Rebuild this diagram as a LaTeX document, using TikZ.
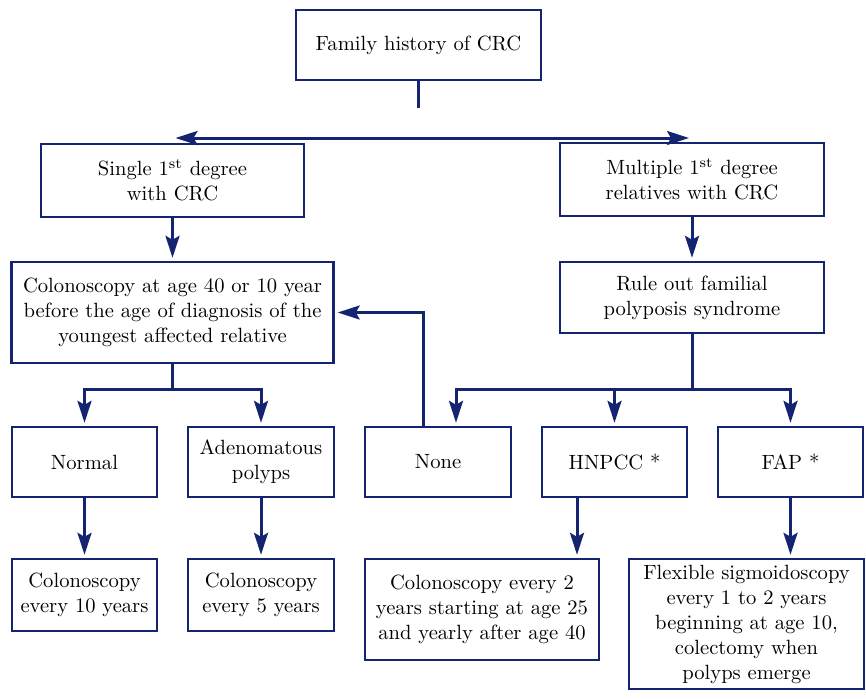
\documentclass[tikz,border=0pt]{standalone}
\usetikzlibrary{arrows.meta,calc}
\definecolor{navy}{RGB}{20,36,112}
\begin{document}
\begin{tikzpicture}[x=0.5pt,y=-0.5pt,
  box/.style={draw=navy,line width=1.2pt,rectangle,align=center,inner sep=0pt,
    font=\fontsize{10.3}{12.5}\selectfont},
  conn/.style={draw=navy,line width=1.5pt},
  arr/.style={conn,-{Stealth[length=11pt,width=7pt,inset=2pt]},shorten >=1.5pt}]
\useasboundingbox (0,0) rectangle (866,698);
% nodes
\node[box,minimum width=122.5pt,minimum height=35pt] (fam) at (418.5,45) {Family history of CRC};
\node[box,minimum width=131.5pt,minimum height=36.5pt] (single) at (172.5,180.5) {Single 1\textsuperscript{st} degree\\with CRC};
\node[box,minimum width=132pt,minimum height=36.5pt] (multiple) at (692,179.5) {Multiple 1\textsuperscript{st} degree\\relatives with CRC};
\node[box,minimum width=161pt,minimum height=50.5pt] (colo) at (172.5,312.5) {Colonoscopy at age 40 or 10 year\\before the age of diagnosis of the\\youngest affected relative};
\node[box,minimum width=132pt,minimum height=35.5pt] (rule) at (692,297.5) {Rule out familial\\polyposis syndrome};
\node[box,minimum width=72.5pt,minimum height=35pt] (normal) at (84.5,462) {Normal};
\node[box,minimum width=73pt,minimum height=35pt] (adeno) at (261,462) {Adenomatous\\polyps};
\node[box,minimum width=73pt,minimum height=35pt] (none) at (438,462) {None};
\node[box,minimum width=72.5pt,minimum height=35pt] (hnpcc) at (614.5,462) {HNPCC *};
\node[box,minimum width=72.5pt,minimum height=35pt] (fap) at (790.5,462) {FAP *};
\node[box,minimum width=72.5pt,minimum height=36pt] (c10) at (84.5,595) {Colonoscopy\\every 10 years};
\node[box,minimum width=73pt,minimum height=36pt] (c5) at (261,595) {Colonoscopy\\every 5 years};
\node[box,minimum width=117pt,minimum height=50.5pt] (chn) at (482,609.5) {Colonoscopy every 2\\years starting at age 25\\and yearly after age 40};
\node[box,minimum width=117.5pt,minimum height=65pt] (cfap) at (746.5,624) {Flexible sigmoidoscopy\\every 1 to 2 years\\beginning at age 10,\\colectomy when\\polyps emerge};
% connectors
\coordinate (famstem) at ($(fam.south)+(0,27)$);
\draw[conn] (fam.south) -- (famstem);
\coordinate (split) at (418.5,138);
\draw[arr] (split) -- (split -| single.north);
\draw[arr] (split) -- (split -| multiple.north);
\draw[arr] (single.south) -- (single.south |- colo.north);
\draw[arr] (multiple.south) -- (rule.north);
\draw[arr] (colo.south) -- ++(0,25) -| (normal.north);
\draw[arr] (colo.south) -- ++(0,25) -| (adeno.north);
\coordinate (nonein) at ($(none.north)+(18,0)$);
\draw[arr] (rule.south) -- ++(0,55) -| (nonein);
\draw[arr] (rule.south) -- ++(0,55) -| (hnpcc.north);
\draw[arr] (rule.south) -- ++(0,55) -| (fap.north);
\coordinate (noneout) at ($(none.north)+(-15,0)$);
\draw[arr] (noneout) |- (colo.east);
\draw[arr] (normal.south) -- (c10.north);
\draw[arr] (adeno.south) -- (c5.north);
\coordinate (hout) at ($(hnpcc.south)+(-37.5,0)$);
\draw[arr] (hout) -- (hout |- chn.north);
\draw[arr] (fap.south) -- (fap.south |- cfap.north);
\end{tikzpicture}
\end{document}
